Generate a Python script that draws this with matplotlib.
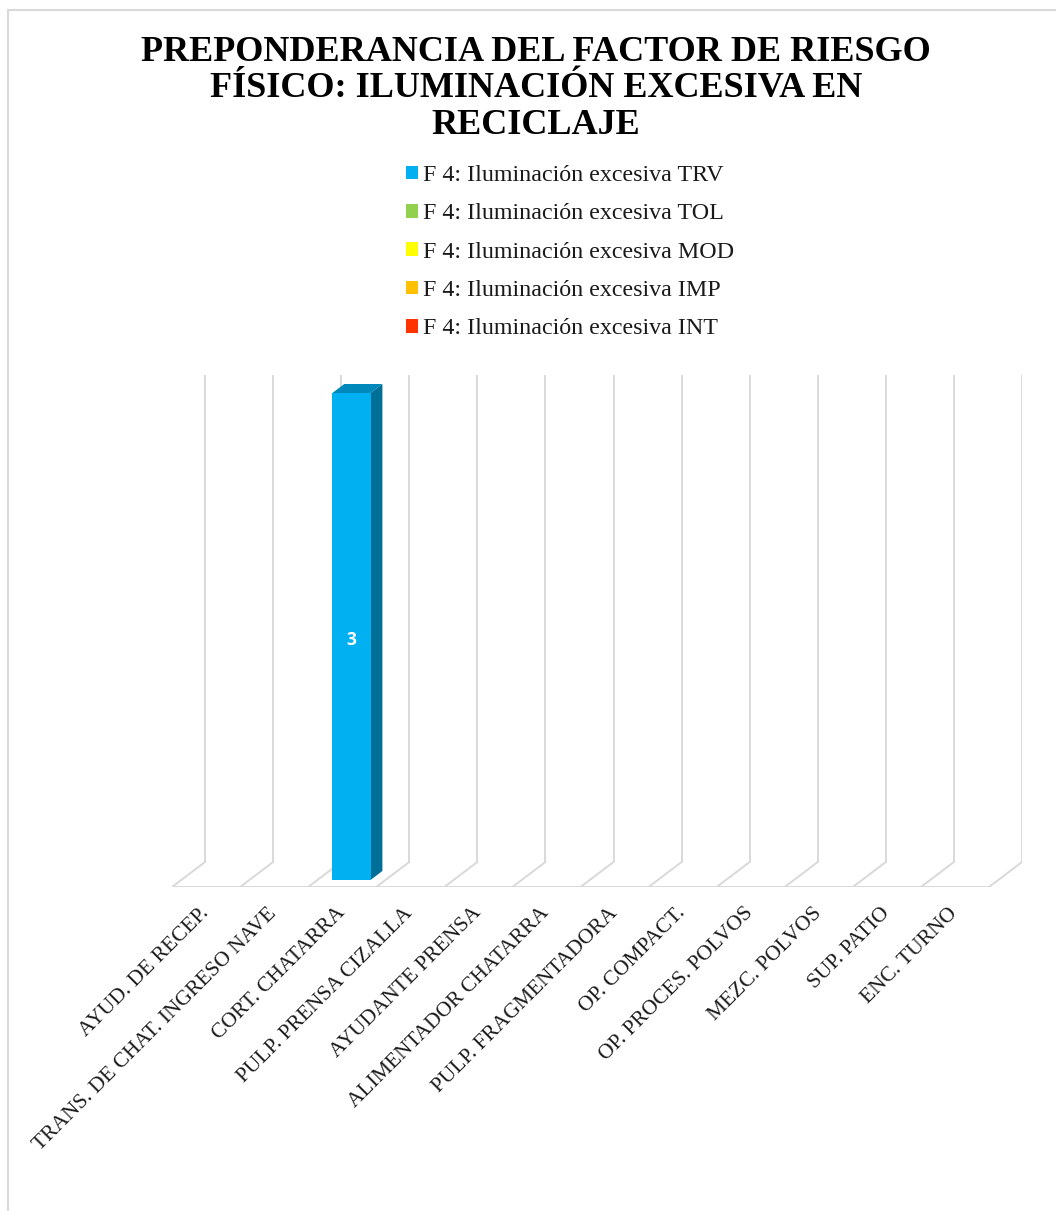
import matplotlib
matplotlib.use("Agg")
import matplotlib.pyplot as plt
from matplotlib.patches import Polygon, Rectangle, Patch
from matplotlib.transforms import offset_copy

# ---- data ----
categories = [
    "AYUD. DE RECEP.",
    "TRANS. DE CHAT. INGRESO NAVE",
    "CORT. CHATARRA",
    "PULP. PRENSA CIZALLA",
    "AYUDANTE PRENSA",
    "ALIMENTADOR CHATARRA",
    "PULP. FRAGMENTADORA",
    "OP. COMPACT.",
    "OP. PROCES. POLVOS",
    "MEZC. POLVOS",
    "SUP. PATIO",
    "ENC. TURNO",
]
series_names = [
    "F 4: Iluminación excesiva TRV",
    "F 4: Iluminación excesiva TOL",
    "F 4: Iluminación excesiva MOD",
    "F 4: Iluminación excesiva IMP",
    "F 4: Iluminación excesiva INT",
]
trv = [0, 0, 3, 0, 0, 0, 0, 0, 0, 0, 0, 0]
tol = [0, 0, 0, 0, 0, 0, 0, 0, 0, 0, 0, 0]
mod = [0, 0, 0, 0, 0, 0, 0, 0, 0, 0, 0, 0]
imp = [0, 0, 0, 0, 0, 0, 0, 0, 0, 0, 0, 0]
intn = [0, 0, 0, 0, 0, 0, 0, 0, 0, 0, 0, 0]
series_values = [trv, tol, mod, imp, intn]

front_colors = ["#00B0F0", "#92D050", "#FFFF00", "#FFC000", "#FF3300"]
side_colors = ["#006F98", "#5C8A2E", "#A6A600", "#A67C00", "#A62100"]
top_colors = ["#0088BA", "#78AC40", "#D9D900", "#D9A300", "#D92B00"]

y_max = 3.0
grid_color = "#D9D9D9"

# ---- figure ----
W, H, DPI = 1056, 1211, 100
fig = plt.figure(figsize=(W / DPI, H / DPI), dpi=DPI)
fig.patch.set_facecolor("white")

# pixel frame of the plot box (front floor line to top of back wall)
px_left, px_right = 172, 1022
px_floor, px_top = 887, 375
depth_px = (33, 25)                      # back wall offset in pixels
n = len(categories)
cat_px = (px_right - depth_px[0] - px_left) / n
unit_px = (px_floor - depth_px[1] - px_top) / y_max
ddx = depth_px[0] / cat_px
ddy = depth_px[1] / unit_px

ax = fig.add_axes([px_left / W, 1 - px_floor / H,
                   (px_right - px_left) / W, (px_floor - px_top) / H])
ax.set_xlim(0, n + ddx)
ax.set_ylim(0, y_max + ddy)
ax.axis("off")

# back wall vertical gridlines and floor diagonals
for i in range(n + 1):
    ax.plot([i + ddx, i + ddx], [ddy, y_max + ddy], color=grid_color, lw=1.4,
            solid_capstyle="butt", zorder=1)
    ax.plot([i, i + ddx], [0, ddy], color=grid_color, lw=1.4, zorder=1)
ax.plot([0, n], [0, 0], color=grid_color, lw=1.4, zorder=1)

# 3D stacked columns
d0, d1 = 0.28, 0.64          # depth fractions of front/back faces
half_w = 0.28
for i in range(n):
    base = 0.0
    for s, vals in enumerate(series_values):
        v = vals[i]
        if v <= 0:
            continue
        cx = i + 0.5
        fx0 = cx - half_w + d0 * ddx
        fx1 = cx + half_w + d0 * ddx
        fy0 = base + d0 * ddy
        fy1 = base + v + d0 * ddy
        bx_shift = (d1 - d0) * ddx
        by_shift = (d1 - d0) * ddy
        front = Polygon([(fx0, fy0), (fx1, fy0), (fx1, fy1), (fx0, fy1)],
                        closed=True, fc=front_colors[s], ec="none", zorder=3)
        side = Polygon([(fx1, fy0), (fx1 + bx_shift, fy0 + by_shift),
                        (fx1 + bx_shift, fy1 + by_shift), (fx1, fy1)],
                       closed=True, fc=side_colors[s], ec="none", zorder=3)
        top = Polygon([(fx0, fy1), (fx1, fy1), (fx1 + bx_shift, fy1 + by_shift),
                       (fx0 + bx_shift, fy1 + by_shift)],
                      closed=True, fc=top_colors[s], ec="none", zorder=3)
        for p in (side, top, front):
            ax.add_patch(p)
        val_tr = offset_copy(ax.transData, fig=fig, x=0, y=-2.5, units="points")
        ax.text((fx0 + fx1) / 2, (fy0 + fy1) / 2, f"{v:g}", color="white",
                fontsize=12.5, fontweight="bold", family="Open Sans",
                ha="center", va="center", zorder=4, transform=val_tr)
        base += v

# category labels, rotated along the floor
lab_tr = offset_copy(ax.transData, fig=fig, x=0, y=-17, units="points")
for i, lab in enumerate(categories):
    ax.text(i + 0.5, 0, lab, transform=lab_tr, rotation=45,
            rotation_mode="anchor", ha="right", va="center",
            family="Liberation Serif", fontsize=15.5, color="#1A1A1A",
            clip_on=False)

# title
fig.text(536 / W, 1 - 36 / H,
         "PREPONDERANCIA DEL FACTOR DE RIESGO\nFÍSICO: ILUMINACIÓN EXCESIVA EN\nRECICLAJE",
         ha="center", va="top", family="Liberation Serif", fontweight="bold",
         fontsize=26, linespacing=1.13, color="black")

# legend
handles = [Patch(facecolor=c, edgecolor="none") for c in front_colors]
fig.legend(handles, series_names, loc="upper left",
           bbox_to_anchor=(394 / W, 1 - 153 / H), frameon=False,
           prop={"family": "Liberation Serif", "size": 17.3},
           handlelength=0.5, handleheight=0.5, handletextpad=0.2,
           labelspacing=0.72, borderpad=0, labelcolor="#1A1A1A")

# chart border
fig.add_artist(Rectangle((8 / W, -0.1), 1.2, 1 - 10 / H + 0.1,
                         transform=fig.transFigure, fill=False,
                         ec="#D9D9D9", lw=1.5))

fig.savefig("out.png", dpi=DPI, facecolor="white")
